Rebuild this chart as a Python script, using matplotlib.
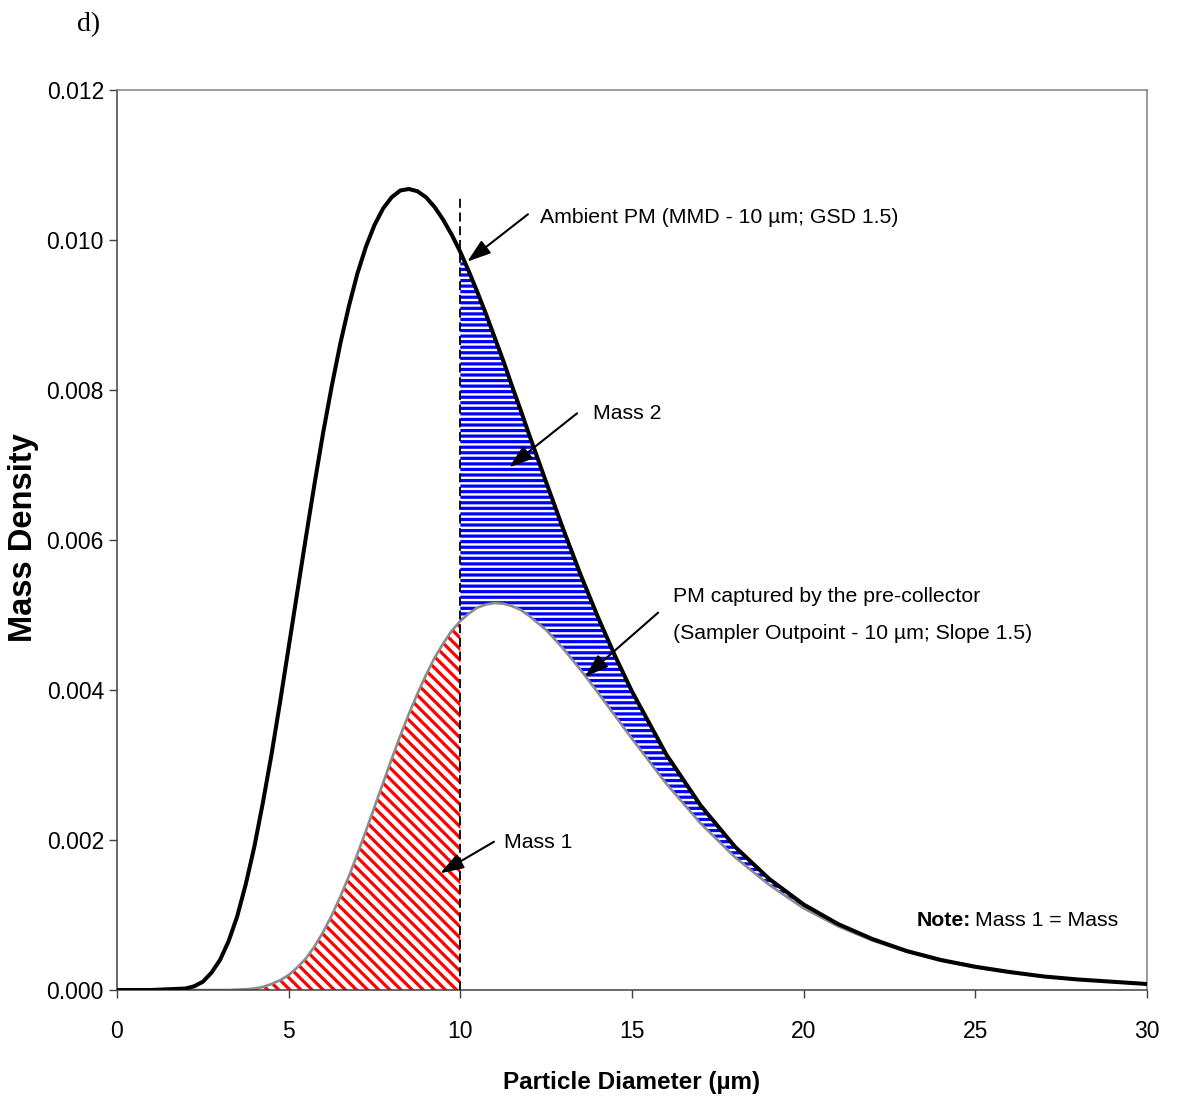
import matplotlib
matplotlib.use("Agg")
import matplotlib.pyplot as plt
import numpy as np
from matplotlib import font_manager

# ---------------- data ----------------
diameter = [0, 1, 2, 2.25, 2.5, 2.75, 3, 3.25, 3.5, 3.75, 4, 4.25, 4.5, 4.75, 5,
            5.25, 5.5, 5.75, 6, 6.25, 6.5, 6.75, 7, 7.25, 7.5, 7.75, 8, 8.25, 8.5,
            8.75, 9, 9.25, 9.5, 9.75, 10, 10.25, 10.5, 10.75, 11, 11.25, 11.5,
            11.75, 12, 12.5, 13, 13.5, 14, 14.5, 15, 16, 17, 18, 19, 20, 21, 22,
            23, 24, 25, 26, 27, 28, 29, 30]
ambient = [0, 0, 0.00002, 0.00005, 0.00011, 0.00023, 0.00040, 0.00065, 0.00098,
           0.00141, 0.00191, 0.00250, 0.00314, 0.00384, 0.00457, 0.00530, 0.00603,
           0.00674, 0.00742, 0.00804, 0.00861, 0.00911, 0.00955, 0.00991, 0.01020,
           0.01042, 0.01057, 0.01066, 0.01068, 0.01065, 0.01057, 0.01044, 0.01027,
           0.01007, 0.00984, 0.00958, 0.00930, 0.00901, 0.00870, 0.00839, 0.00806,
           0.00774, 0.00741, 0.00677, 0.00614, 0.00554, 0.00498, 0.00446, 0.00398,
           0.00314, 0.00246, 0.00191, 0.00148, 0.00114, 0.00088, 0.00068, 0.00052,
           0.00040, 0.00031, 0.00024, 0.00018, 0.00014, 0.00011, 0.00008]
captured = [0, 0, 0, 0, 0, 0, 0, 0, 0.000005, 0.00001, 0.00002, 0.00004, 0.00008,
            0.00013, 0.00020, 0.00030, 0.00042, 0.00058, 0.00077, 0.00099, 0.00124,
            0.00151, 0.00181, 0.00212, 0.00244, 0.00276, 0.00308, 0.00339, 0.00368,
            0.00395, 0.00420, 0.00443, 0.00462, 0.00479, 0.00492, 0.00502, 0.00510,
            0.00514, 0.00516, 0.00515, 0.00512, 0.00507, 0.00499, 0.00480, 0.00455,
            0.00427, 0.00397, 0.00366, 0.00335, 0.00275, 0.00222, 0.00177, 0.00140,
            0.00109, 0.00085, 0.00066, 0.00051, 0.00039, 0.00030, 0.00023, 0.00018,
            0.00014, 0.00011, 0.00008]
cutpoint = 10
cut_line_top = 0.0106
x_ticks = [0, 5, 10, 15, 20, 25, 30]
y_ticks = [0.000, 0.002, 0.004, 0.006, 0.008, 0.010, 0.012]

# ---------------- fonts ----------------
names = {f.name for f in font_manager.fontManager.ttflist}
if 'Liberation Sans Narrow' in names:
    NARROW = 'Liberation Sans Narrow'
    ann_size = 18
else:
    NARROW = 'Liberation Sans'
    ann_size = 15.3
SANS = 'Liberation Sans'
plt.rcParams['font.family'] = [SANS, 'DejaVu Sans']
plt.rcParams['hatch.linewidth'] = 2.3

x = np.array(diameter)
amb = np.array(ambient)
cap = np.array(captured)

fig = plt.figure(figsize=(11.78, 11.07), dpi=100)
ax = fig.add_axes([117/1178, 117/1107, 1030/1178, 900/1107])

# Mass 1 (red hatched under captured curve, below cutpoint)
ax.fill_between(x, 0, cap, where=x <= cutpoint, facecolor='white',
                edgecolor='red', linewidth=0, hatch='\\\\\\', zorder=1)
# Mass 2 (blue hatched between curves, above cutpoint)
ax.fill_between(x, cap, amb, where=x >= cutpoint, facecolor='white',
                edgecolor='blue', linewidth=0, hatch='---', zorder=1)

ax.plot(x, cap, color='#8c8c8c', lw=1.9, zorder=2, solid_joinstyle='round')
ax.vlines(cutpoint, 0, cut_line_top, colors='black', linestyles=(0, (5, 2.6)),
          lw=1.3, zorder=3)
ax.plot(x, amb, color='black', lw=2.9, zorder=4, solid_joinstyle='round')

ax.set_xlim(0, 30)
ax.set_ylim(0, 0.012)
ax.set_xticks(x_ticks)
ax.set_yticks(y_ticks)
ax.set_xticklabels([str(t) for t in x_ticks])
ax.set_yticklabels([f'{t:.3f}' for t in y_ticks])
ax.tick_params(axis='y', direction='out', length=5.8, width=1, pad=3.6,
               labelsize=16.5, colors='#404040', labelcolor='black')
ax.tick_params(axis='x', direction='out', length=5.8, width=1, pad=16,
               labelsize=16.5, colors='#404040', labelcolor='black')

for s in ['left', 'bottom']:
    ax.spines[s].set_color('#404040')
    ax.spines[s].set_linewidth(1.1)
for s in ['top', 'right']:
    ax.spines[s].set_color('#808080')
    ax.spines[s].set_linewidth(1.1)

ax.set_xlabel('Particle Diameter (\u00b5m)', fontsize=17.5, fontweight='bold')
ax.xaxis.set_label_coords(0.5, (990 - 1083) / 900)
ax.xaxis.label.set_va('center')
ax.set_ylabel('Mass Density', fontsize=23.5, fontweight='bold')
ax.yaxis.set_label_coords((24 - 117) / 1030, (990 - 537.5) / 900)
ax.yaxis.label.set_va('center')

arrow = dict(arrowstyle='-|>,head_length=0.6,head_width=0.2', color='black',
             lw=1.5, mutation_scale=24, shrinkA=0, shrinkB=0)
fam = [NARROW, 'DejaVu Sans']

ax.annotate('', xy=(10.20, 0.009711), xytext=(11.97, 0.010343), arrowprops=arrow, zorder=6)
ax.text(12.32, 0.0103, 'Ambient PM (MMD - 10 \u00b5m; GSD 1.5)', family=fam,
        fontsize=ann_size, va='center', ha='left')

ax.annotate('', xy=(11.42, 0.006969), xytext=(13.40, 0.007689), arrowprops=arrow, zorder=6)
ax.text(13.86, 0.00769, 'Mass 2', family=fam, fontsize=ann_size,
        va='center', ha='left')

ax.annotate('', xy=(13.63, 0.004177), xytext=(15.76, 0.005031), arrowprops=arrow, zorder=6)
ax.text(16.19, 0.005253, 'PM captured by the pre-collector', family=fam,
        fontsize=ann_size, va='center', ha='left')
ax.text(16.19, 0.004747, '(Sampler Outpoint - 10 \u00b5m; Slope 1.5)', family=fam,
        fontsize=ann_size, va='center', ha='left')

ax.annotate('', xy=(9.41, 0.001556), xytext=(10.98, 0.001977), arrowprops=arrow, zorder=6)
ax.text(11.27, 0.00197, 'Mass 1', family=fam, fontsize=ann_size,
        va='center', ha='left')

t1 = ax.text(23.30, 0.00092, 'Note:', family=fam, fontsize=ann_size,
             fontweight='bold', va='center', ha='left')
fig.canvas.draw()
bb = t1.get_window_extent()
x_end = ax.transData.inverted().transform((bb.x1, bb.y0))[0]
ax.text(x_end + 0.12, 0.00092, 'Mass 1 = Mass', family=fam,
        fontsize=ann_size, va='center', ha='left')

fig.text(77/1178, (1107 - 31)/1107, 'd)', family=['Liberation Serif', 'DejaVu Serif'],
         fontsize=20, va='baseline', ha='left')

fig.savefig('out.png', dpi=100)
